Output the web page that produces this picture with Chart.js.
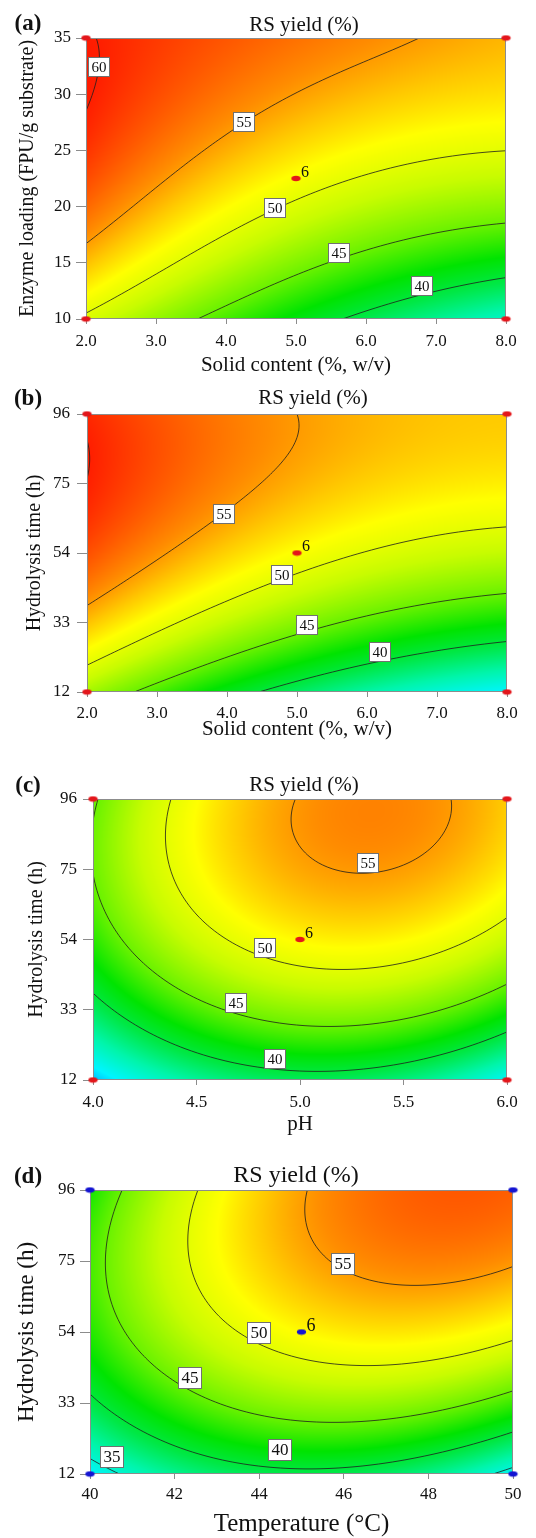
<!DOCTYPE html>
<html>
<head>
<meta charset="utf-8">
<script src="https://cdn.jsdelivr.net/npm/chart.js@4.4.1/dist/chart.umd.min.js"></script>
<style>
  html, body { margin: 0; padding: 0; background: #fff; }
  body { width: 536px; height: 1538px; position: relative; overflow: hidden; }
  canvas { position: absolute; left: 0; }
</style>
</head>
<body>
<canvas id="ca" width="536" height="380" style="top:0px"></canvas>
<canvas id="cb" width="536" height="364" style="top:380px"></canvas>
<canvas id="cc" width="536" height="395" style="top:744px"></canvas>
<canvas id="cd" width="536" height="399" style="top:1139px"></canvas>
<script>
// factor levels (low, centre, high)
const solidLevels = [2, 5, 8];
const enzymeLevels = [10, 22.5, 35];
const timeLevels = [12, 54, 96];
const phLevels = [4, 5, 6];
const tempLevels = [40, 45, 50];

// axis ticks
const solidTicks = [2, 3, 4, 5, 6, 7, 8];
const enzymeTicks = [10, 15, 20, 25, 30, 35];
const timeTicks = [12, 33, 54, 75, 96];
const phTicks = [4, 4.5, 5, 5.5, 6];
const tempTicks = [40, 42, 44, 46, 48, 50];

// RS yield (%) at the factor levels, rows = y factor low..high, cols = x factor low..high
const yieldSolidEnzyme = [
  [49.5, 41.5, 35.5],
  [58.2, 51.2, 48.3],
  [60.2, 56.6, 54.1]
];
const yieldSolidTime = [
  [47.2, 38.7, 33.5],
  [58.0, 51.3, 48.3],
  [59.6, 55.0, 53.4]
];
const yieldPhTime = [
  [32.0, 38.9, 33.8],
  [43.1, 51.7, 48.6],
  [44.6, 55.1, 53.3]
];
const yieldTempTime = [
  [33.5, 39.4, 34.0],
  [42.9, 51.6, 50.7],
  [42.5, 54.8, 57.3]
];

// contour levels drawn in each plot
const levelsA = [40, 45, 50, 55, 60];
const levelsB = [40, 45, 50, 55, 60];
const levelsC = [40, 45, 50, 55];
const levelsD = [35, 40, 45, 50, 55];

// contour labels: [level, x, y]
const labelsA = [[60, 2.18, 32.45], [55, 4.25, 27.5], [50, 4.7, 19.9], [45, 5.62, 15.85], [40, 6.8, 12.96]];
const labelsB = [[55, 3.95, 65.8], [50, 4.78, 47.4], [45, 5.14, 32.3], [40, 6.19, 24.0]];
const labelsC = [[55, 5.33, 76.9], [50, 4.83, 51.5], [45, 4.69, 35.0], [40, 4.88, 18.4]];
const labelsD = [[55, 45.99, 74.05], [50, 44.0, 53.6], [45, 42.37, 40.5], [40, 44.5, 19.1], [35, 40.51, 17.1]];

// replicated centre point runs
const centreRuns = 6;

const serif = '"Liberation Serif", "Times New Roman", serif';

// colour ramp used for the filled surface
const heatStops = [
  [31, [0, 150, 255]],
  [33.5, [0, 245, 255]],
  [36.5, [0, 245, 170]],
  [39.5, [0, 232, 70]],
  [42, [0, 228, 0]],
  [45, [105, 242, 0]],
  [48.5, [200, 252, 0]],
  [51.5, [255, 255, 0]],
  [53.5, [255, 200, 0]],
  [55.5, [255, 140, 0]],
  [57.5, [255, 90, 0]],
  [60, [255, 30, 0]],
  [62, [255, 0, 0]]
];

function heatColour(v) {
  if (v <= heatStops[0][0]) return heatStops[0][1];
  for (let i = 1; i < heatStops.length; i++) {
    if (v <= heatStops[i][0]) {
      const [v0, c0] = heatStops[i - 1], [v1, c1] = heatStops[i];
      const t = (v - v0) / (v1 - v0);
      return [0, 1, 2].map(k => c0[k] + t * (c1[k] - c0[k]));
    }
  }
  return heatStops[heatStops.length - 1][1];
}

// quadratic weights through the three factor levels
function weights(lv, v) {
  const [a, b, c] = lv;
  return [
    (v - b) * (v - c) / ((a - b) * (a - c)),
    (v - a) * (v - c) / ((b - a) * (b - c)),
    (v - a) * (v - b) / ((c - a) * (c - b))
  ];
}

function surface(grid, xl, yl, x, y) {
  const wx = weights(xl, x), wy = weights(yl, y);
  let z = 0;
  for (let j = 0; j < 3; j++)
    for (let i = 0; i < 3; i++) z += wy[j] * wx[i] * grid[j][i];
  return z;
}

function dotImage(colour) {
  const c = document.createElement('canvas');
  c.width = 11; c.height = 7;
  const g = c.getContext('2d');
  g.fillStyle = colour;
  g.beginPath();
  g.ellipse(5.5, 3.5, 4.6, 2.8, 0, 0, Math.PI * 2);
  g.fill();
  return c;
}

const panels = [
  {
    canvas: 'ca', letter: '(a)', grid: yieldSolidEnzyme, xLevels: solidLevels, yLevels: enzymeLevels,
    xTicks: solidTicks, yTicks: enzymeTicks, xDigits: 1, levels: levelsA, labels: labelsA,
    xTitle: 'Solid content (%, w/v)', yTitle: 'Enzyme loading (FPU/g substrate)', dot: '#e3161b',
    box: { yw: 86, padTop: 38, padRight: 30, xh: 61, xPad: 7, yPad: 5, yTitlePad: 18, xTitlePad: 4.5, titleX: 304, titleY: 25, letterY: 24 },
    font: { title: 21, xTitle: 21, yTitle: 20, tick: 17, label: 15, letter: 23 }
  },
  {
    canvas: 'cb', letter: '(b)', grid: yieldSolidTime, xLevels: solidLevels, yLevels: timeLevels,
    xTicks: solidTicks, yTicks: timeTicks, xDigits: 1, levels: levelsB, labels: labelsB,
    xTitle: 'Solid content (%, w/v)', yTitle: 'Hydrolysis time (h)', dot: '#e3161b',
    box: { yw: 87, padTop: 34, padRight: 29, xh: 52, xPad: 6, yPad: 7, yTitlePad: 25, xTitlePad: 4.5, titleX: 313, titleY: 18, letterY: 19 },
    font: { title: 21, xTitle: 21, yTitle: 20, tick: 17, label: 15, letter: 23 }
  },
  {
    canvas: 'cc', letter: '(c)', grid: yieldPhTime, xLevels: phLevels, yLevels: timeLevels,
    xTicks: phTicks, yTicks: timeTicks, xDigits: 1, levels: levelsC, labels: labelsC,
    xTitle: 'pH', yTitle: 'Hydrolysis time (h)', dot: '#e3161b',
    box: { yw: 93, padTop: 55, padRight: 29, xh: 59, xPad: 7, yPad: 6, yTitlePad: 27, xTitlePad: 4.5, titleX: 304, titleY: 41, letterY: 42 },
    font: { title: 21, xTitle: 21, yTitle: 20, tick: 17, label: 15, letter: 23 }
  },
  {
    canvas: 'cd', letter: '(d)', grid: yieldTempTime, xLevels: tempLevels, yLevels: timeLevels,
    xTicks: tempTicks, yTicks: timeTicks, xDigits: 0, levels: levelsD, labels: labelsD,
    xTitle: 'Temperature (\u00B0C)', yTitle: 'Hydrolysis time (h)', dot: '#1414d2',
    box: { yw: 90, padTop: 51, padRight: 23, xh: 64, xPad: 5, yPad: 5, yTitlePad: 15.5, xTitlePad: 1.5, titleX: 296, titleY: 37, letterY: 38 },
    font: { title: 24, xTitle: 25, yTitle: 23, tick: 17, label: 17, letter: 23 }
  }
];

function contourPlugin(p) {
  return {
    id: 'rsContour',
    beforeDatasetsDraw(chart) {
      const { ctx, chartArea: a } = chart;
      const sx = chart.scales.x, sy = chart.scales.y;
      const left = Math.round(a.left), top = Math.round(a.top);
      const w = Math.round(a.right) - left, h = Math.round(a.bottom) - top;
      const z = (px, py) => surface(p.grid, p.xLevels, p.yLevels, sx.getValueForPixel(px), sy.getValueForPixel(py));

      // filled surface
      const off = document.createElement('canvas');
      off.width = w; off.height = h;
      const octx = off.getContext('2d');
      const img = octx.createImageData(w, h);
      const cols = [], rows = [];
      for (let i = 0; i < w; i++) cols.push(sx.getValueForPixel(left + i + 0.5));
      for (let j = 0; j < h; j++) rows.push(sy.getValueForPixel(top + j + 0.5));
      for (let j = 0; j < h; j++) {
        for (let i = 0; i < w; i++) {
          const c = heatColour(surface(p.grid, p.xLevels, p.yLevels, cols[i], rows[j]));
          const k = (j * w + i) * 4;
          img.data[k] = c[0]; img.data[k + 1] = c[1]; img.data[k + 2] = c[2]; img.data[k + 3] = 255;
        }
      }
      octx.putImageData(img, 0, 0);
      ctx.drawImage(off, left, top);

      // contour lines (marching squares)
      const step = 2;
      const gx = [], gy = [];
      for (let x = left; x < left + w; x += step) gx.push(x);
      gx.push(left + w);
      for (let y = top; y < top + h; y += step) gy.push(y);
      gy.push(top + h);
      const zz = gy.map(py => gx.map(px => z(px, py)));
      ctx.save();
      ctx.beginPath();
      ctx.rect(left, top, w, h);
      ctx.clip();
      ctx.strokeStyle = 'rgba(30,30,30,0.8)';
      ctx.lineWidth = 1;
      ctx.beginPath();
      p.levels.forEach(L => {
        for (let j = 0; j < gy.length - 1; j++) {
          for (let i = 0; i < gx.length - 1; i++) {
            const c = [
              [gx[i], gy[j], zz[j][i]], [gx[i + 1], gy[j], zz[j][i + 1]],
              [gx[i + 1], gy[j + 1], zz[j + 1][i + 1]], [gx[i], gy[j + 1], zz[j + 1][i]]
            ];
            const pts = [];
            for (let e = 0; e < 4; e++) {
              const p1 = c[e], p2 = c[(e + 1) % 4];
              if ((p1[2] < L) !== (p2[2] < L)) {
                const t = (L - p1[2]) / (p2[2] - p1[2]);
                pts.push([p1[0] + t * (p2[0] - p1[0]), p1[1] + t * (p2[1] - p1[1])]);
              }
            }
            for (let m = 0; m + 1 < pts.length; m += 2) {
              ctx.moveTo(pts[m][0], pts[m][1]);
              ctx.lineTo(pts[m + 1][0], pts[m + 1][1]);
            }
          }
        }
      });
      ctx.stroke();
      ctx.restore();

      // contour labels
      ctx.save();
      ctx.font = p.font.label + 'px ' + serif;
      ctx.textAlign = 'center';
      ctx.textBaseline = 'middle';
      p.labels.forEach(([lev, vx, vy]) => {
        const px = Math.round(sx.getPixelForValue(vx)), py = Math.round(sy.getPixelForValue(vy));
        const bw = Math.round(ctx.measureText(String(lev)).width + 7), bh = Math.round(p.font.label * 1.3);
        const bx = px - Math.round(bw / 2), by = py - Math.round(bh / 2);
        ctx.fillStyle = '#fff';
        ctx.fillRect(bx, by, bw, bh);
        ctx.strokeStyle = '#707070';
        ctx.lineWidth = 1;
        ctx.strokeRect(bx + 0.5, by + 0.5, bw - 1, bh - 1);
        ctx.fillStyle = '#111';
        ctx.fillText(String(lev), px, py + 1);
      });
      ctx.restore();

      // frame
      ctx.save();
      ctx.strokeStyle = '#8c8c8c';
      ctx.lineWidth = 1;
      ctx.strokeRect(left + 0.5, top + 0.5, w - 1, h - 1);
      ctx.restore();
    },
    afterDatasetsDraw(chart) {
      const { ctx } = chart;
      const px = chart.scales.x.getPixelForValue(p.xLevels[1]);
      const py = chart.scales.y.getPixelForValue(p.yLevels[1]);
      ctx.save();
      ctx.font = (p.font.label + 1) + 'px ' + serif;
      ctx.fillStyle = '#111';
      ctx.textAlign = 'left';
      ctx.textBaseline = 'middle';
      ctx.fillText(String(centreRuns), px + 5, py - 6);
      ctx.restore();
    },
    afterDraw(chart) {
      const { ctx } = chart;
      ctx.save();
      ctx.fillStyle = '#111';
      ctx.textAlign = 'center';
      ctx.textBaseline = 'middle';
      ctx.font = p.font.title + 'px ' + serif;
      ctx.fillText('RS yield (%)', p.box.titleX, p.box.titleY);
      ctx.font = 'bold ' + p.font.letter + 'px ' + serif;
      ctx.fillText(p.letter, 28, p.box.letterY);
      ctx.restore();
    }
  };
}

panels.forEach(p => {
  const corners = [[0, 0], [2, 0], [0, 2], [2, 2], [1, 1]];
  const points = corners.map(([i, j]) => ({ x: p.xLevels[i], y: p.yLevels[j] }));
  new Chart(document.getElementById(p.canvas), {
    type: 'scatter',
    data: {
      datasets: [{
        data: points,
        pointStyle: dotImage(p.dot),
        pointRadius: 4,
        clip: false
      }]
    },
    options: {
      responsive: false,
      animation: false,
      events: [],
      layout: { padding: { left: 0, top: p.box.padTop, right: p.box.padRight, bottom: 0 } },
      plugins: { legend: { display: false }, tooltip: { enabled: false } },
      scales: {
        x: {
          type: 'linear',
          min: p.xTicks[0],
          max: p.xTicks[p.xTicks.length - 1],
          afterBuildTicks: s => { s.ticks = p.xTicks.map(v => ({ value: v })); },
          afterFit: s => { s.height = p.box.xh; },
          grid: { drawOnChartArea: false, tickLength: 5, color: '#8c8c8c' },
          border: { display: false },
          ticks: {
            autoSkip: false, maxRotation: 0, padding: p.box.xPad, color: '#111',
            font: { family: serif, size: p.font.tick, lineHeight: 1.2 },
            callback: v => v.toFixed(p.xDigits)
          },
          title: {
            display: true, text: p.xTitle, color: '#111',
            font: { family: serif, size: p.font.xTitle, lineHeight: 1 },
            padding: { top: 0, bottom: p.box.xTitlePad }
          }
        },
        y: {
          type: 'linear',
          min: p.yTicks[0],
          max: p.yTicks[p.yTicks.length - 1],
          afterBuildTicks: s => { s.ticks = p.yTicks.map(v => ({ value: v })); },
          afterFit: s => { s.width = p.box.yw; },
          grid: { drawOnChartArea: false, tickLength: 10, color: '#8c8c8c' },
          border: { display: false },
          ticks: {
            autoSkip: false, padding: p.box.yPad, color: '#111',
            font: { family: serif, size: p.font.tick, lineHeight: 1.2 },
            callback: v => String(v)
          },
          title: {
            display: true, text: p.yTitle, color: '#111',
            font: { family: serif, size: p.font.yTitle, lineHeight: 1 },
            padding: { top: p.box.yTitlePad, bottom: 0 }
          }
        }
      }
    },
    plugins: [contourPlugin(p)]
  });
});
</script>
</body>
</html>
